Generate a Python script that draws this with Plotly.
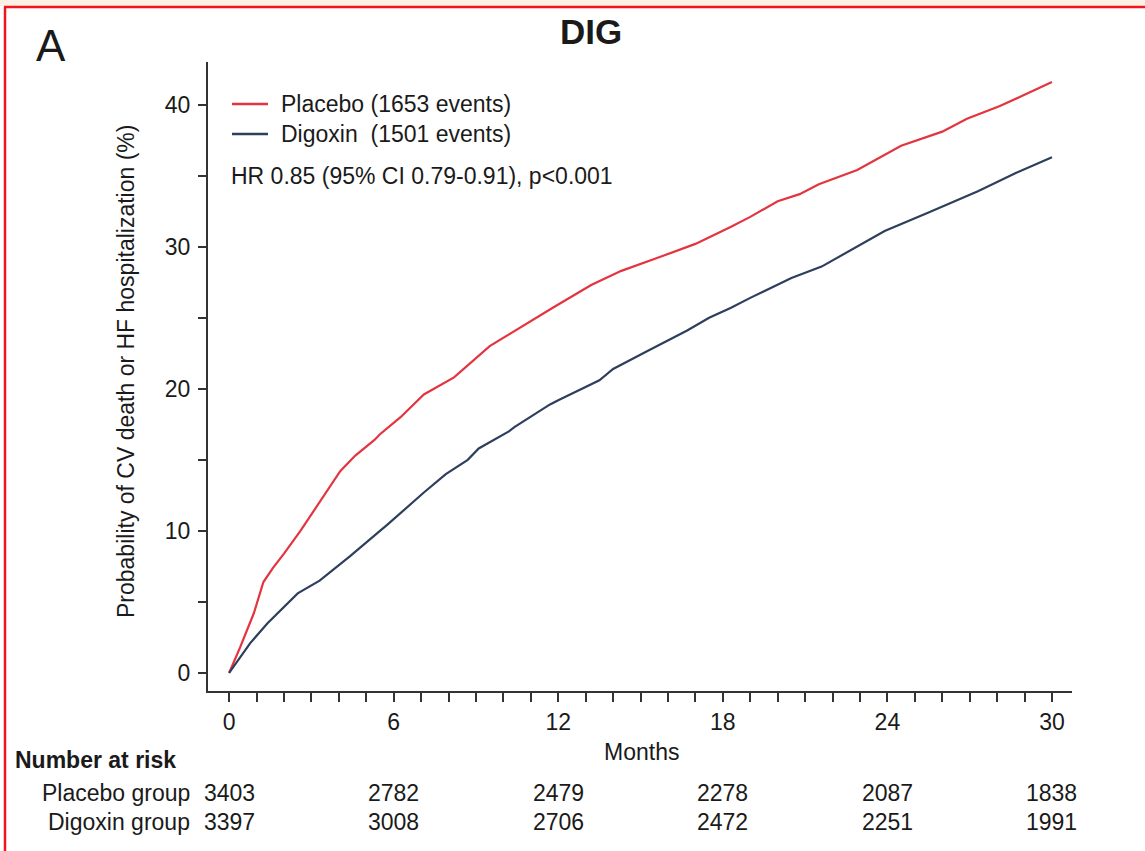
import plotly.graph_objects as go

# ---- Data ----
placebo_months = [0, 0.4, 0.9, 1.25, 1.6, 2.0, 2.6, 3.2, 3.6, 4.05, 4.6, 5.3, 5.5, 6.25, 7.1, 8.2,
                  9.5, 10.6, 11.8, 13.2, 14.3, 15.6, 17.0, 18.3, 19.0, 20.0, 20.8, 21.5, 22.9,
                  24.5, 26.0, 26.9, 28.1, 28.9, 30.0]
placebo_pct = [0, 1.8, 4.2, 6.4, 7.4, 8.4, 10.0, 11.7, 12.9, 14.2, 15.3, 16.4, 16.8, 18.0, 19.6,
               20.8, 23.0, 24.3, 25.7, 27.3, 28.3, 29.2, 30.2, 31.4, 32.1, 33.2, 33.7, 34.4,
               35.4, 37.1, 38.1, 39.0, 39.9, 40.6, 41.6]

digoxin_months = [0, 0.77, 1.4, 2.5, 3.3, 4.4, 5.5, 5.75, 7.1, 7.9, 8.7, 9.1, 10.2, 10.4, 11.7,
                  12.0, 13.5, 14.0, 15.2, 16.7, 17.5, 18.3, 19.0, 20.5, 21.6, 22.7, 23.9, 25.5,
                  27.3, 28.7, 30.0]
digoxin_pct = [0, 2.1, 3.5, 5.6, 6.5, 8.2, 10.0, 10.4, 12.7, 14.0, 15.0, 15.8, 17.0, 17.3, 18.9,
               19.2, 20.6, 21.4, 22.6, 24.1, 25.0, 25.7, 26.4, 27.8, 28.6, 29.8, 31.1, 32.4,
               33.9, 35.2, 36.3]

risk_months = [0, 6, 12, 18, 24, 30]
risk_placebo = [3403, 2782, 2479, 2278, 2087, 1838]
risk_digoxin = [3397, 3008, 2706, 2472, 2251, 1991]

x_ticks = list(range(0, 31))
x_ticklabels = [str(v) if v % 6 == 0 else "" for v in x_ticks]
y_ticks = list(range(0, 45, 5))
y_ticklabels = [str(v) if v % 10 == 0 else "" for v in y_ticks]

series_names = ["Placebo (1653 events)", "Digoxin  (1501 events)"]
RED = "#E3343F"
BLUE = "#2D3F5C"
TXT = "#1a1a1a"
FONT = "Arial, Liberation Sans, sans-serif"
FS = 23

# plot area in pixels: x 208..1072, y 62..691
L, R, T, B = 208, 1072, 62, 691
W, H = 1145, 851


def px(X):
    return (X - L) / (R - L)


def py(Y):
    return (B - Y) / (B - T)


fig = go.Figure()
fig.add_trace(go.Scatter(x=placebo_months, y=placebo_pct, mode="lines", name=series_names[0],
                         line=dict(color=RED, width=2.2), showlegend=False))
fig.add_trace(go.Scatter(x=digoxin_months, y=digoxin_pct, mode="lines", name=series_names[1],
                         line=dict(color=BLUE, width=2.2), showlegend=False))

ann = []
ann.append(dict(text="A", x=px(51), y=py(46), xref="paper", yref="paper", showarrow=False,
                font=dict(size=44, color=TXT, family=FONT), xanchor="center", yanchor="middle"))
ann.append(dict(text="<b>DIG</b>", x=px(591), y=py(32), xref="paper", yref="paper", showarrow=False,
                font=dict(size=35, color=TXT, family=FONT), xanchor="center", yanchor="middle"))
ann.append(dict(text="Probability of CV death or HF hospitalization (%)", x=px(126), y=py(372),
                xref="paper", yref="paper", showarrow=False, textangle=-90,
                font=dict(size=23, color=TXT, family=FONT), xanchor="center", yanchor="middle"))
ann.append(dict(text="Months", x=px(641), y=py(752), xref="paper", yref="paper", showarrow=False,
                font=dict(size=FS, color=TXT, family=FONT), xanchor="center", yanchor="middle"))
# legend (drawn manually to match the reference placement)
legend_y = [104, 134]
legend_colors = [RED, BLUE]
shapes = []
for name, yy, col in zip(series_names, legend_y, legend_colors):
    shapes.append(dict(type="line", xref="paper", yref="paper", x0=px(232), x1=px(268),
                       y0=py(yy), y1=py(yy), line=dict(color=col, width=2.5)))
    ann.append(dict(text=name.replace("  ", "&nbsp; "), x=px(279), y=py(yy), xref="paper",
                    yref="paper", showarrow=False, font=dict(size=FS, color=TXT, family=FONT),
                    xanchor="left", yanchor="middle"))
ann.append(dict(text="HR 0.85 (95% CI 0.79-0.91), p<0.001", x=px(229), y=py(176), xref="paper",
                yref="paper", showarrow=False, font=dict(size=FS, color=TXT, family=FONT),
                xanchor="left", yanchor="middle"))
ann.append(dict(text="<b>Number at risk</b>", x=px(13), y=py(760), xref="paper", yref="paper",
                showarrow=False, font=dict(size=FS, color=TXT, family=FONT),
                xanchor="left", yanchor="middle"))
ann.append(dict(text="Placebo group", x=px(192), y=py(793), xref="paper", yref="paper",
                showarrow=False, font=dict(size=FS, color=TXT, family=FONT),
                xanchor="right", yanchor="middle"))
ann.append(dict(text="Digoxin group", x=px(192), y=py(822), xref="paper", yref="paper",
                showarrow=False, font=dict(size=FS, color=TXT, family=FONT),
                xanchor="right", yanchor="middle"))
for m, a, b in zip(risk_months, risk_placebo, risk_digoxin):
    ann.append(dict(text=str(a), x=m, y=py(793), xref="x", yref="paper", showarrow=False,
                    font=dict(size=FS, color=TXT, family=FONT), xanchor="center", yanchor="middle"))
    ann.append(dict(text=str(b), x=m, y=py(822), xref="x", yref="paper", showarrow=False,
                    font=dict(size=FS, color=TXT, family=FONT), xanchor="center", yanchor="middle"))

shapes += [
    dict(type="rect", xref="paper", yref="paper", x0=px(0), x1=px(W), y0=py(6), y1=py(0),
         fillcolor="#FBF2E5", line=dict(width=0), layer="below"),
    dict(type="line", xref="paper", yref="paper", x0=px(4), x1=px(W), y0=py(7), y1=py(7),
         line=dict(color="#F0141E", width=2.5)),
    dict(type="line", xref="paper", yref="paper", x0=px(5), x1=px(5), y0=py(7), y1=py(H),
         line=dict(color="#F0141E", width=2.5)),
]

fig.update_layout(
    width=W, height=H,
    margin=dict(l=L, r=W - R, t=T, b=H - B),
    paper_bgcolor="white", plot_bgcolor="white",
    font=dict(family=FONT, color=TXT, size=FS),
    showlegend=False,
    annotations=ann,
    shapes=shapes,
    xaxis=dict(range=[-0.77, 30.73], tickmode="array", tickvals=x_ticks, ticktext=x_ticklabels,
               ticks="outside", ticklen=9, tickwidth=1.5, tickcolor="#333",
               showline=True, linecolor="#333", linewidth=2, showgrid=False, zeroline=False,
               tickfont=dict(size=FS, color=TXT, family=FONT)),
    yaxis=dict(range=[-1.27, 43.0], tickmode="array", tickvals=y_ticks, ticktext=y_ticklabels,
               ticks="outside", ticklen=8, tickwidth=1.5, tickcolor="#333",
               showline=True, linecolor="#333", linewidth=2, showgrid=False, zeroline=False,
               ticklabelstandoff=3,
               tickfont=dict(size=FS, color=TXT, family=FONT)),
)

fig.write_html("out.html", config={"displayModeBar": False},
               post_script="document.body.style.margin='0';")
